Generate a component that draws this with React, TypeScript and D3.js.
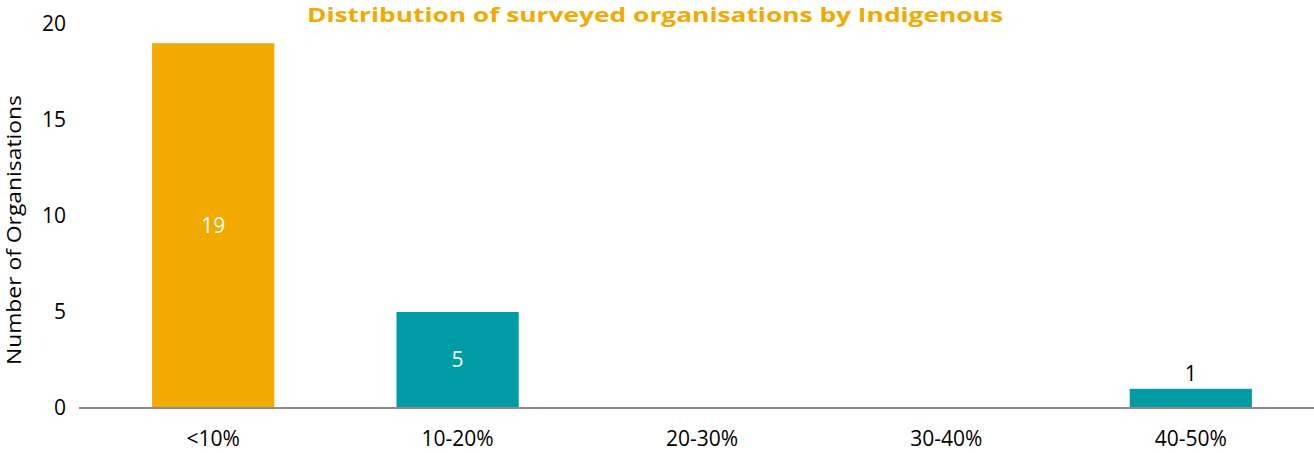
import React from "react";
import * as d3 from "d3";

const categories = ["<10%", "10-20%", "20-30%", "30-40%", "40-50%"];
const counts = [19, 5, 0, 0, 1];
const barColors = ["#F2A900", "#009CA6", "#009CA6", "#009CA6", "#009CA6"];
const yTicks = [0, 5, 10, 15, 20];
const title = "Distribution of surveyed organisations by Indigenous";
const yTitle = "Number of Organisations";

const W = 1314;
const H = 453;
const FONT = "'Open Sans', 'Liberation Sans', sans-serif";

export default function App() {
  const x = d3.scaleBand<string>().domain(categories).range([91, 1313]).paddingInner(0.5).paddingOuter(0.25);
  const y = d3.scaleLinear().domain([0, 20]).range([408, 24]);

  return (
    <svg width={W} height={H} style={{ position: "absolute", left: 0, top: 0 }}>
      <text x={655} y={22} textAnchor="middle" fill="#F2A900" fontWeight="bold" fontSize={20}
        fontFamily={FONT} textLength={696} lengthAdjust="spacingAndGlyphs">{title}</text>
      <text transform="translate(21,230) rotate(-90)" textAnchor="middle" fontSize={20} fontFamily={FONT}
        fill="#000" textLength={270} lengthAdjust="spacingAndGlyphs">{yTitle}</text>
      {yTicks.map((t) => (
        <text key={t} x={66} y={y(t)} dy="0.35em" textAnchor="end" fontSize={21} fontFamily={FONT} fill="#000">{t}</text>
      ))}
      {categories.map((c, i) => {
        const bx = x(c)!;
        const bw = x.bandwidth();
        const v = counts[i];
        if (v <= 0) return null;
        const top = y(v);
        const h = y(0) - top;
        const inside = h > 40;
        return (
          <g key={c}>
            <rect x={bx} y={top} width={bw} height={h} fill={barColors[i]} />
            <text x={bx + bw / 2} y={inside ? top + h / 2 : top - 8} dy={inside ? "0.35em" : 0}
              textAnchor="middle" fontSize={21} fontFamily={FONT} fill={inside ? "#fff" : "#000"}>{v}</text>
          </g>
        );
      })}
      <line x1={79} x2={1314} y1={y(0)} y2={y(0)} stroke="#8c8c8c" strokeWidth={2} />
      {categories.map((c) => (
        <text key={c} x={x(c)! + x.bandwidth() / 2} y={446} textAnchor="middle" fontSize={21} fontFamily={FONT} fill="#000">{c}</text>
      ))}
    </svg>
  );
}
